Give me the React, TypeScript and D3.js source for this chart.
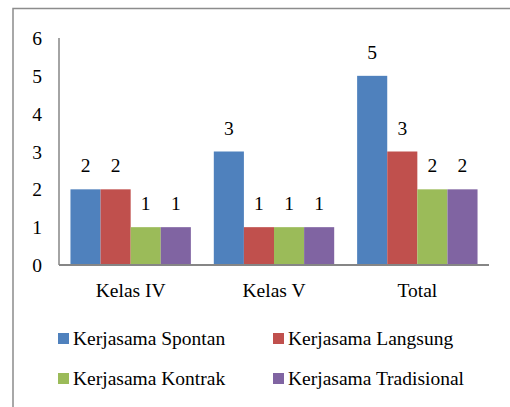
import * as d3 from "d3";

const categories = ["Kelas IV", "Kelas V", "Total"];
const seriesNames = [
  "Kerjasama Spontan",
  "Kerjasama Langsung",
  "Kerjasama Kontrak",
  "Kerjasama Tradisional",
];
const spontan = [2, 3, 5];
const langsung = [2, 1, 3];
const kontrak = [1, 1, 2];
const tradisional = [1, 1, 2];
const yTicks = [0, 1, 2, 3, 4, 5, 6];
const colors = ["#4F81BD", "#C0504D", "#9BBB59", "#8064A2"];

const values = [spontan, langsung, kontrak, tradisional];

export default function App() {
  const width = 510;
  const height = 407;
  const left = 59;
  const right = 489;
  const top = 38;
  const bottom = 265;
  const font = "Times New Roman, Liberation Serif, DejaVu Serif, serif";

  const x0 = d3.scaleBand().domain(categories).range([left, right]).paddingInner(0.16).paddingOuter(0.08);
  const x1 = d3.scaleBand().domain(seriesNames).range([0, x0.bandwidth()]);
  const y = d3.scaleLinear().domain([0, 6]).range([bottom, top]);

  return (
    <svg width={width} height={height} style={{ position: "absolute", left: 0, top: 0, fontFamily: font, fontSize: 19.5 }}>
      <rect x={13} y={8.5} width={600} height={500} fill="white" stroke="#8c8c8c" strokeWidth={1.5} />
      {categories.map((c, ci) =>
        seriesNames.map((s, si) => {
          const v = values[si][ci];
          const bx = (x0(c) ?? 0) + (x1(s) ?? 0);
          return (
            <g key={c + s}>
              <rect x={bx} y={y(v)} width={x1.bandwidth()} height={bottom - y(v)} fill={colors[si]} />
              <text x={bx + x1.bandwidth() / 2} y={y(v) - 17} textAnchor="middle" fill="#000">
                {v}
              </text>
            </g>
          );
        })
      )}
      <line x1={left} x2={left} y1={top} y2={bottom} stroke="#868686" strokeWidth={1.5} />
      <line x1={left} x2={right} y1={bottom} y2={bottom} stroke="#868686" strokeWidth={2} />
      {yTicks.map((t) => (
        <text key={t} x={42} y={y(t) + 7} textAnchor="end" fill="#000">
          {t}
        </text>
      ))}
      {categories.map((c) => (
        <text key={c} x={(x0(c) ?? 0) + x0.bandwidth() / 2} y={297} textAnchor="middle" fill="#000">
          {c}
        </text>
      ))}
      {seriesNames.map((s, i) => {
        const lx = i % 2 === 0 ? 58 : 273;
        const ly = i < 2 ? 345 : 385;
        return (
          <g key={s}>
            <rect x={lx} y={ly - 12} width={11} height={11} fill={colors[i]} />
            <text x={lx + 15} y={ly} fill="#000">
              {s}
            </text>
          </g>
        );
      })}
    </svg>
  );
}
